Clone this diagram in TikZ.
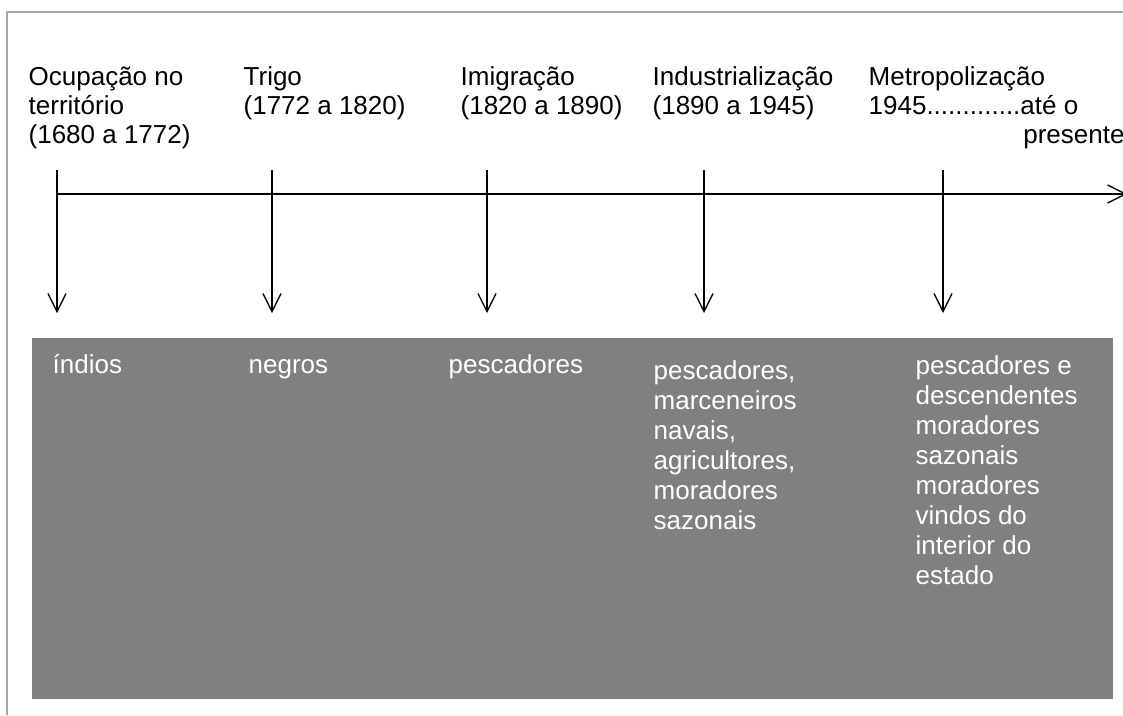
\documentclass[tikz,border=0pt]{standalone}
\usepackage{fontspec}
\setmainfont{Liberation Sans}
\usetikzlibrary{arrows.meta}
\definecolor{framegray}{RGB}{166,166,166}
\definecolor{bandgray}{RGB}{128,128,128}
\newcommand{\textstack}[1]{\begin{tabular}[t]{@{}l@{}}#1\end{tabular}}
\tikzset{
  period/.style={anchor=base west,inner sep=0pt,
    font=\fontsize{19.5}{21.75}\selectfont},
  people/.style={anchor=base west,inner sep=0pt,text=white,
    font=\fontsize{19.5}{22.6}\selectfont},
  barb/.tip={Straight Barb[length=13.5pt,width=13.5pt]}
}
\begin{document}
\begin{tikzpicture}[x=0.75pt,y=-0.75pt,line width=1pt]
\useasboundingbox (0,0) rectangle (1123,715);
\draw[framegray,line width=1.5pt] (7,715) -- (7,12) -- (1123,12);
\fill[bandgray] (32,338) rectangle (1113,699);
% periods
\node[period] (p1) at (28,85) {\textstack{Ocupação no\\território\\(1680 a 1772)}};
\node[period] (p2) at (243,85) {\textstack{Trigo\\(1772 a 1820)}};
\node[period] (p3) at (460,85) {\textstack{Imigração\\(1820 a 1890)}};
\node[period] (p4) at (652,85) {\textstack{Industrialização\\(1890 a 1945)}};
\node[period] (p5) at (868,85) {\textstack{Metropolização\\1945.............até o\\\hspace*{116pt}presente}};
% time line
\coordinate (start) at (57,194);
\coordinate (end) at (1127,194);
\draw[-barb] (start) -- (end);
\foreach \x [count=\i] in {57,272,487,704,943}{
\coordinate (top\i) at (\x,170);
\coordinate (bot\i) at (\x,313);
\draw[-barb] (top\i) -- (bot\i);
}
% people
\node[people] (g1) at (52,373) {índios};
\node[people] (g2) at (248,373) {negros};
\node[people] (g3) at (448,373) {pescadores};
\node[people] (g4) at (653,379) {\textstack{pescadores,\\marceneiros\\navais,\\agricultores,\\moradores\\sazonais}};
\node[people] (g5) at (915,374) {\textstack{pescadores e\\descendentes\\moradores\\sazonais\\moradores\\vindos do\\interior do\\estado}};
\end{tikzpicture}
\end{document}
